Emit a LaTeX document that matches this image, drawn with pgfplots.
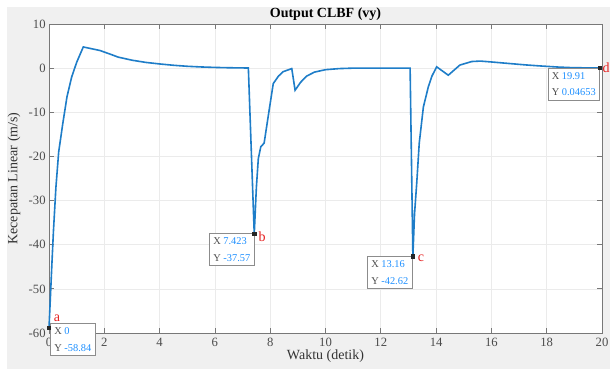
\documentclass[border=0pt]{standalone}
\usepackage{fontspec}
\setmainfont{Liberation Serif}
\usepackage{pgfplots}
\pgfplotsset{compat=1.18}
\definecolor{mblue}{RGB}{30,125,200}
\definecolor{tipblue}{RGB}{30,144,255}
\definecolor{figbg}{RGB}{240,240,240}
\definecolor{axgray}{RGB}{120,120,120}
\definecolor{lblred}{RGB}{230,30,30}
\tikzset{tip/.style={draw=black!45, fill=white, line width=0.7pt, font=\fontsize{7.8}{12.5}\selectfont, inner xsep=2.5pt, inner ysep=3pt, align=left, minimum width=34pt, text=black!70},
lbl/.style={text=lblred, font=\fontsize{10.5}{10}\selectfont}}
\begin{document}
\begin{tikzpicture}
\path[use as bounding box] (-36.75pt,-28.5pt) rectangle (420.75pt,249.75pt);
\clip (-36.75pt,-28.5pt) rectangle (420.75pt,249.75pt);
\fill[white] (-36.75pt,-28.5pt) rectangle (420.75pt,249.75pt);
\fill[figbg] (-31.5pt,-27pt) rectangle (420.75pt,244.5pt);
\begin{axis}[
 at={(0pt,0pt)}, anchor=south west,
 scale only axis, width=414.75pt, height=231.75pt,
 xmin=0, xmax=20, ymin=-60, ymax=10,
 xtick={0,2,...,20}, ytick={-60,-50,...,10},
 grid=major, major grid style={draw=black!8, line width=0.5pt},
 axis background/.style={fill=white},
 axis line style={draw=axgray, line width=0.7pt},
 tick style={draw=axgray, line width=0.6pt},
 tick align=inside, major tick length=3.5pt,
 ticklabel style={font=\fontsize{9.5}{10}\selectfont, text=black!70},
 yticklabel style={xshift=1pt},
 /pgf/number format/assume math mode=true,
 title={\textbf{Output CLBF (vy)}},
 title style={at={(axis description cs:0.5,1)}, anchor=south, yshift=-7pt, font=\fontsize{10.5}{11}\selectfont},
 xlabel={Waktu (detik)},
 xlabel style={at={(axis description cs:0.5,-0.0744)}, anchor=center, font=\fontsize{10.5}{11}\selectfont, text=black!80},
 ylabel={Kecepatan Linear (m/s)},
 ylabel style={at={(axis description cs:-0.0633,0.5)}, anchor=center, font=\fontsize{10.5}{11}\selectfont, text=black!80},
 clip=false,
]
\addplot[mblue, line width=1.2pt] coordinates {
(0,-58.84) (0.05,-52) (0.1,-45) (0.16,-37) (0.25,-27) (0.35,-19) (0.5,-12.5)
(0.65,-6.5) (0.82,-2) (1.0,1.3) (1.24,4.8) (1.5,4.45) (1.84,4.0) (2.2,3.2)
(2.5,2.5) (3.0,1.8) (3.5,1.3) (4.0,0.95) (4.5,0.65) (5.0,0.42) (5.5,0.27)
(6.0,0.16) (6.5,0.09) (7.21,0.03) (7.423,-37.57) (7.5,-27) (7.57,-20.5)
(7.66,-17.8) (7.78,-17) (7.95,-10) (8.11,-3.5) (8.3,-1.8) (8.47,-0.8)
(8.78,-0.1) (8.9,-5) (9.1,-3.2) (9.32,-1.8) (9.6,-0.9) (10,-0.35) (10.5,-0.1)
(11,0) (12,0) (13.06,0) (13.16,-42.62) (13.22,-33) (13.3,-26) (13.39,-17)
(13.54,-8.8) (13.72,-4.2) (13.85,-1.8) (14.02,0.3) (14.44,-1.6) (14.86,0.7)
(15.29,1.5) (15.6,1.6) (16,1.4) (16.55,1.1) (17.2,0.75) (17.76,0.5)
(18.4,0.25) (18.96,0.1) (19.5,0.06) (19.91,0.04653) (20,0.04)
};
\addplot[only marks, mark=square*, mark size=1.2pt, black!85] coordinates {
(0,-58.84) (7.423,-37.57) (13.16,-42.62) (19.91,0.04653)
};
\node[tip, anchor=north west, yshift=3.5pt, xshift=0.5pt] at (axis cs:0,-58.84) {X {\color{tipblue}0}\\Y {\color{tipblue}-58.84}};
\node[tip, anchor=north east, xshift=0.5pt, yshift=0.5pt] at (axis cs:7.423,-37.57) {X {\color{tipblue}7.423}\\Y {\color{tipblue}-37.57}};
\node[tip, anchor=north east] at (axis cs:13.16,-42.62) {X {\color{tipblue}13.16}\\Y {\color{tipblue}-42.62}};
\node[tip, anchor=north east] at (axis cs:19.91,0.04653) {X {\color{tipblue}19.91}\\Y {\color{tipblue}0.04653}};
\node[lbl] at ([xshift=6pt, yshift=7.5pt]axis cs:0,-58.84) {a};
\node[lbl] at ([xshift=6pt, yshift=-2pt]axis cs:7.423,-37.57) {b};
\node[lbl] at ([xshift=6pt, yshift=-1.5pt]axis cs:13.16,-42.62) {c};
\node[lbl] at ([xshift=5pt]axis cs:19.91,0.04653) {d};
\end{axis}
\end{tikzpicture}
\end{document}
